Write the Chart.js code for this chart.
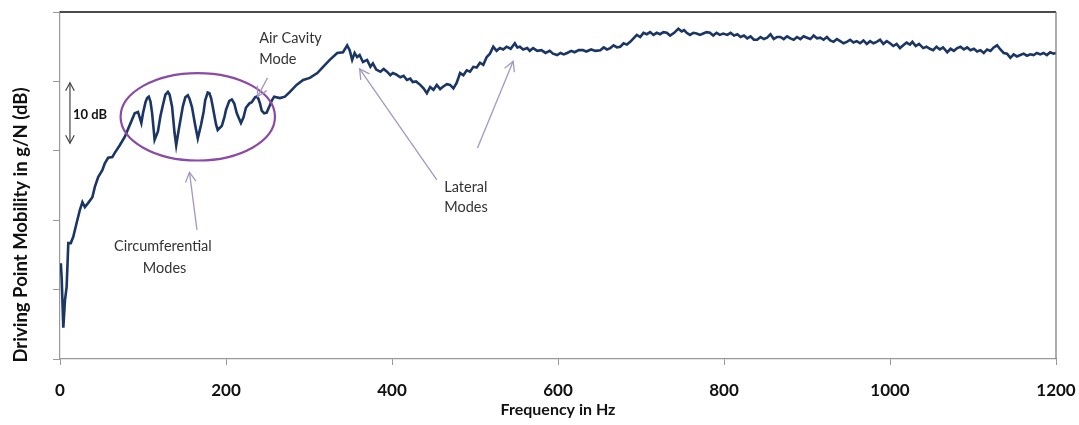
<!DOCTYPE html>
<html>
<head>
<meta charset="utf-8">
<script src="https://cdn.jsdelivr.net/npm/chart.js@4.4.1/dist/chart.umd.min.js"></script>
<style>
  body { margin: 0; background: #fff; }
  #wrap { width: 1079px; height: 425px; position: relative; }
</style>
</head>
<body>
<div id="wrap"><canvas id="mobilityChart"></canvas></div>
<script>
// frequency (Hz) and driving point mobility (dB)
const freqHz = [
  1, 2, 4, 6, 8, 10, 13, 16, 20, 24, 27, 30, 34, 39, 42, 46, 51, 54, 58, 63,
  66, 72, 78, 84, 90, 94, 98, 100, 103, 105, 107, 109, 111, 114, 118, 121, 124, 127, 130, 132, 135, 138, 140, 143, 148, 151, 154, 156,
  159, 163, 166, 170, 173, 175, 178, 180, 182, 184, 188, 190, 195, 198, 200, 204, 207, 210, 213, 218, 221, 224, 228, 231, 235, 237, 239, 241, 243, 246, 249, 253, 255, 258,
  265, 271, 277, 285, 293, 301, 310, 317, 325, 334, 341, 346, 349, 352, 355, 358, 361, 365, 370, 374,
  377, 381, 386, 390, 394, 398, 401, 405, 410, 414, 418, 422, 425, 429, 434, 438, 442, 446, 450, 454,
  458, 461, 466, 470, 474, 478, 482, 486, 490, 494, 498, 502, 506, 510, 514, 518, 522, 526, 530, 534,
  538, 543, 548, 551, 554, 558, 563, 566, 570, 575, 580, 585, 590, 594, 599, 603, 607, 611, 616, 620,
  625, 630, 634, 640, 645, 651, 655, 659, 663, 667, 671, 675, 679, 683, 687, 691, 695, 699, 703, 707,
  711, 715, 719, 723, 727, 731, 735, 740, 745, 749, 752, 755, 759, 763, 767, 771, 775, 779, 783, 787,
  791, 795, 799, 804, 808, 812, 816, 820, 824, 828, 832, 836, 840, 844, 848, 852, 856, 860, 864, 868,
  872, 876, 880, 884, 888, 892, 896, 900, 904, 908, 912, 916, 920, 924, 928, 932, 936, 940, 944, 948,
  952, 956, 960, 964, 968, 972, 976, 980, 984, 988, 992, 996, 1000, 1004, 1008, 1012, 1016, 1020, 1024, 1027,
  1031, 1035, 1040, 1044, 1048, 1052, 1056, 1060, 1064, 1069, 1073, 1077, 1081, 1085, 1089, 1093, 1097, 1101, 1105, 1109,
  1113, 1117, 1121, 1125, 1129, 1133, 1137, 1141, 1145, 1149, 1153, 1157, 1161, 1165, 1169, 1173, 1177, 1181, 1185, 1189,
  1193, 1197, 1200
];
const mobilityDb = [
  -36.2, -38.3, -45.5, -41.5, -39.6, -33.3, -33.3, -32.4, -30.4, -28.5, -27.4, -28.1, -27.5, -26.7, -25.2, -23.8, -22.8, -21.8, -21.0, -20.9,
  -20.3, -19.2, -18.0, -16.3, -14.6, -14.4, -16.0, -14.6, -13.0, -12.4, -12.2, -12.9, -14.6, -18.4, -17.2, -15.0, -13.4, -11.9, -11.5, -11.9, -13.6, -17.4, -19.2, -17.0, -13.6, -12.3, -12.0, -12.5,
  -13.7, -16.4, -18.2, -16.2, -14.4, -12.7, -11.6, -11.7, -12.4, -13.6, -16.2, -17.0, -16.4, -15.2, -14.1, -12.8, -12.6, -13.2, -14.6, -16.0, -15.2, -13.8, -13.2, -13.0, -12.3, -12.2, -12.5, -13.2, -14.2, -14.6, -14.5, -13.4, -12.8, -12.2,
  -12.4, -12.2, -11.5, -10.5, -9.8, -9.5, -8.8, -7.9, -6.9, -5.9, -5.8, -4.8, -5.5, -6.9, -5.9, -6.5, -6.2, -7.2, -6.9, -7.9,
  -7.4, -8.3, -8.6, -8.2, -8.6, -9.1, -8.8, -9.0, -9.4, -9.2, -9.8, -9.6, -10.1, -10.0, -10.5, -11.0, -11.7, -10.8, -11.2, -10.5,
  -11.1, -10.8, -10.4, -10.5, -11.0, -10.2, -8.8, -9.1, -8.4, -8.6, -7.9, -8.0, -7.3, -7.6, -6.5, -6.0, -5.0, -5.6, -5.2, -5.4,
  -5.0, -5.3, -4.5, -5.1, -5.0, -5.4, -5.2, -5.6, -5.2, -5.6, -5.5, -5.9, -5.6, -6.0, -6.2, -5.9, -6.1, -5.9, -5.6, -5.8,
  -5.5, -5.5, -5.7, -5.4, -5.6, -5.5, -5.1, -5.4, -5.2, -4.8, -5.1, -5.0, -4.5, -4.7, -4.3, -3.8, -3.3, -3.6, -3.0, -3.2,
  -2.9, -3.3, -3.0, -3.2, -2.9, -3.0, -3.4, -3.0, -2.4, -2.8, -2.6, -3.0, -3.3, -3.0, -3.1, -3.3, -3.1, -2.9, -3.0, -3.4,
  -3.0, -3.3, -3.1, -3.3, -3.0, -3.4, -3.2, -3.6, -3.4, -3.8, -3.5, -4.0, -4.0, -3.6, -3.9, -3.7, -3.2, -3.9, -3.6, -3.6,
  -3.9, -3.5, -3.8, -4.0, -3.6, -3.9, -3.5, -3.7, -3.9, -3.4, -3.8, -3.7, -4.0, -3.6, -4.1, -4.3, -3.9, -4.2, -4.5, -4.3,
  -4.0, -4.4, -4.2, -4.5, -4.1, -4.6, -4.2, -4.5, -4.3, -4.0, -4.6, -4.2, -4.5, -4.9, -4.6, -5.2, -4.8, -4.4, -4.7, -4.3,
  -4.9, -4.6, -5.2, -5.0, -5.3, -5.5, -5.0, -5.4, -5.1, -5.8, -5.3, -5.6, -5.2, -5.0, -5.4, -5.1, -5.5, -5.3, -5.7, -5.5,
  -5.9, -5.4, -5.6, -5.1, -4.8, -5.4, -5.9, -6.0, -6.6, -6.1, -6.4, -6.2, -6.0, -6.3, -6.1, -6.2, -5.9, -6.1, -5.9, -6.2,
  -5.8, -6.0, -5.9
];
const xTicks = [0, 200, 400, 600, 800, 1000, 1200];

// annotations in data units [Hz, dB]
const modeLabels = [
  { text: 'Circumferential', at: [124, -33.7], align: 'center' },
  { text: 'Modes', at: [126, -36.9], align: 'center' },
  { text: 'Air Cavity', at: [240, -3.8], align: 'left' },
  { text: 'Mode', at: [240, -6.8], align: 'left' },
  { text: 'Lateral', at: [463, -25.2], align: 'left' },
  { text: 'Modes', at: [463, -28.2], align: 'left' }
];
const modeArrows = [
  { from: [165, -31.4], to: [156, -23.1] },
  { from: [250, -9.5], to: [238, -12.2] },
  { from: [454, -24.2], to: [361, -8.2] },
  { from: [503, -19.6], to: [546, -7.1] }
];
const circleMode = { center: [166, -15.1], radius: [93, 6.3] };
const scaleBar = { freq: 12, top: -10.2, bottom: -18.9, label: '10 dB' };

const points = freqHz.map((f, i) => ({ x: f, y: mobilityDb[i] }));

function arrowHead(ctx, x1, y1, x2, y2, size) {
  const a = Math.atan2(y2 - y1, x2 - x1);
  ctx.beginPath();
  ctx.moveTo(x2 - size * Math.cos(a - 0.5), y2 - size * Math.sin(a - 0.5));
  ctx.lineTo(x2, y2);
  ctx.lineTo(x2 - size * Math.cos(a + 0.5), y2 - size * Math.sin(a + 0.5));
  ctx.stroke();
}

const extras = {
  id: 'extras',
  afterDraw(chart) {
    const ctx = chart.ctx;
    const area = chart.chartArea;
    const xs = chart.scales.x, ys = chart.scales.y;
    const px = v => xs.getPixelForValue(v);
    const py = v => ys.getPixelForValue(v);
    ctx.save();

    // frame top / right
    ctx.strokeStyle = '#111';
    ctx.lineWidth = 1.5;
    ctx.beginPath();
    ctx.moveTo(area.left, area.top);
    ctx.lineTo(area.right, area.top);
    ctx.stroke();
    ctx.strokeStyle = '#777';
    ctx.lineWidth = 1.2;
    ctx.beginPath();
    ctx.moveTo(area.right, area.top);
    ctx.lineTo(area.right, area.bottom);
    ctx.stroke();

    // ellipse round the circumferential modes
    const cx = px(circleMode.center[0]), cy = py(circleMode.center[1]);
    const rx = Math.abs(px(circleMode.center[0] + circleMode.radius[0]) - cx);
    const ry = Math.abs(py(circleMode.center[1] + circleMode.radius[1]) - cy);
    ctx.strokeStyle = '#8a4aa6';
    ctx.lineWidth = 2.2;
    ctx.beginPath();
    ctx.ellipse(cx, cy, rx, ry, 0, 0, Math.PI * 2);
    ctx.stroke();

    // arrows
    ctx.strokeStyle = '#a497c0';
    ctx.lineWidth = 1.3;
    modeArrows.forEach(a => {
      const x1 = px(a.from[0]), y1 = py(a.from[1]);
      const x2 = px(a.to[0]), y2 = py(a.to[1]);
      ctx.beginPath();
      ctx.moveTo(x1, y1);
      ctx.lineTo(x2, y2);
      ctx.stroke();
      arrowHead(ctx, x1, y1, x2, y2, 11);
    });

    // 10 dB bar
    const bx = px(scaleBar.freq), bt = py(scaleBar.top), bb = py(scaleBar.bottom);
    ctx.strokeStyle = '#444';
    ctx.lineWidth = 1.2;
    ctx.beginPath();
    ctx.moveTo(bx, bt);
    ctx.lineTo(bx, bb);
    ctx.stroke();
    arrowHead(ctx, bx, bb, bx, bt, 9);
    arrowHead(ctx, bx, bt, bx, bb, 9);
    ctx.fillStyle = '#111';
    ctx.font = 'bold 13px Lato';
    ctx.textAlign = 'left';
    ctx.textBaseline = 'middle';
    ctx.fillText(scaleBar.label, bx + 3, py((scaleBar.top + scaleBar.bottom) / 2) + 2);

    // mode labels
    ctx.fillStyle = '#333';
    ctx.font = '14.5px Lato';
    modeLabels.forEach(l => {
      ctx.textAlign = l.align;
      ctx.fillText(l.text, px(l.at[0]), py(l.at[1]));
    });

    // axis titles
    ctx.fillStyle = '#111';
    ctx.font = 'bold 16px Lato';
    ctx.textAlign = 'center';
    ctx.fillText('Frequency in Hz', (area.left + area.right) / 2, 410);
    ctx.translate(21, 225);
    ctx.rotate(-Math.PI / 2);
    ctx.font = 'bold 18.5px Lato';
    ctx.fillText('Driving Point Mobility in g/N (dB)', 0, 0);
    ctx.restore();
  }
};

new Chart(document.getElementById('mobilityChart'), {
  type: 'line',
  data: {
    datasets: [{
      label: 'Driving point mobility',
      data: points,
      borderColor: '#1b3564',
      borderWidth: 2.6,
      pointRadius: 0,
      tension: 0,
      fill: false
    }]
  },
  options: {
    responsive: true,
    maintainAspectRatio: false,
    animation: false,
    layout: { padding: { top: 12, right: 0, left: 0, bottom: 0 } },
    plugins: {
      legend: { display: false },
      tooltip: { enabled: false }
    },
    scales: {
      x: {
        type: 'linear',
        min: 0,
        max: 1200,
        afterBuildTicks: s => { s.ticks = xTicks.map(v => ({ value: v })); },
        afterFit: s => {
          s.height = 66;
          s.paddingLeft = 0;
          s.paddingRight = 23;
        },
        ticks: {
          color: '#111',
          padding: 15,
          maxRotation: 0,
          callback: v => String(v),
          font: { family: 'Lato', weight: 'bold', size: 17 }
        },
        grid: { drawOnChartArea: false, drawTicks: true, tickLength: 6, color: '#999' },
        border: { color: '#999', width: 1.2 }
      },
      y: {
        min: -50,
        max: 0,
        afterFit: s => { s.width = 60; },
        ticks: { stepSize: 10, display: false },
        grid: { drawOnChartArea: false, drawTicks: true, tickLength: 7, color: '#999' },
        border: { color: '#999', width: 1.2 }
      }
    }
  },
  plugins: [extras]
});
</script>
</body>
</html>
